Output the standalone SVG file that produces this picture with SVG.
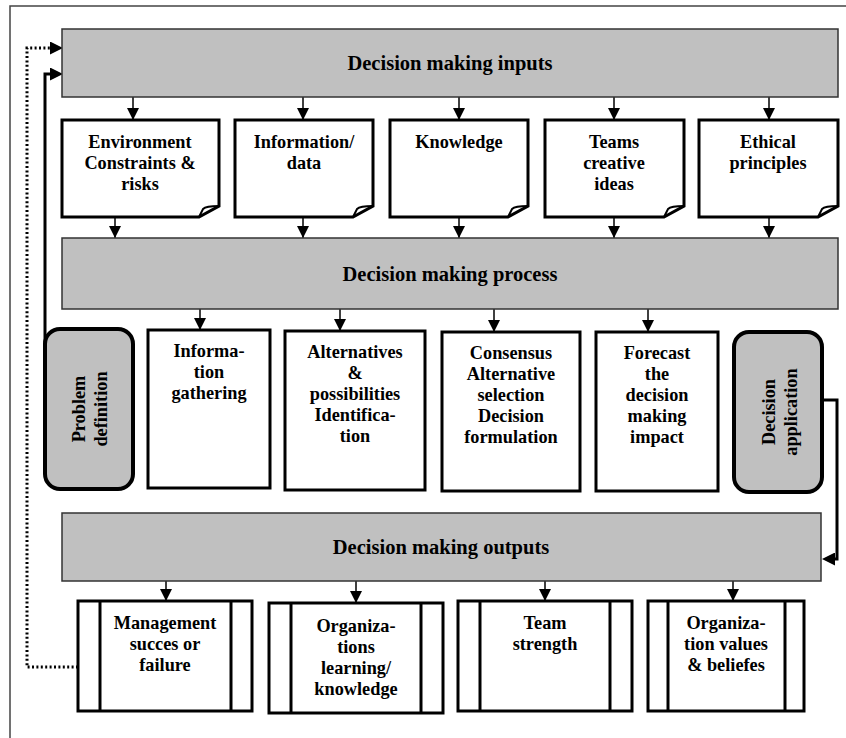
<svg xmlns="http://www.w3.org/2000/svg" width="846" height="738" viewBox="0 0 846 738">
<style>
text{font-family:"Liberation Serif","Times New Roman",serif;font-weight:bold;fill:#000}
.t{font-size:20.5px;text-anchor:middle}
.n{font-size:18.3px;text-anchor:middle}
.gray{fill:#c0c0c0;stroke:#333;stroke-width:1.5}
.doc{fill:#fff;stroke:#000;stroke-width:3;stroke-linejoin:miter}
.fold{fill:none;stroke:#000;stroke-width:2}
.box{fill:#fff;stroke:#000;stroke-width:3}
.rbox{fill:#c0c0c0;stroke:#000;stroke-width:4}
.bar{stroke:#000;stroke-width:3}
.arr{fill:none;stroke:#000;stroke-width:1.5}
.thick{fill:none;stroke:#000;stroke-width:3}
.dot{fill:none;stroke:#000;stroke-width:3;stroke-dasharray:2 2.4}
</style>
<defs>
<marker id="ah" viewBox="0 0 12 12" refX="12" refY="6" markerWidth="12" markerHeight="12" markerUnits="userSpaceOnUse" orient="auto"><path d="M0,0 L12,6 L0,12 Z" fill="#000" stroke="none"/></marker>
<marker id="ahb" viewBox="0 0 13 13" refX="0" refY="6.5" markerWidth="13" markerHeight="13" markerUnits="userSpaceOnUse" orient="auto"><path d="M0,0 L13,6.5 L0,13 Z" fill="#000" stroke="none"/></marker>
</defs>
<rect x="10" y="6" width="900" height="800" fill="none" stroke="#444" stroke-width="1.5"/>

<g id="connectors">
<line class="arr" x1="133" y1="97" x2="133" y2="120" marker-end="url(#ah)"/>
<line class="arr" x1="303" y1="97" x2="303" y2="120" marker-end="url(#ah)"/>
<line class="arr" x1="459" y1="97" x2="459" y2="120" marker-end="url(#ah)"/>
<line class="arr" x1="614" y1="97" x2="614" y2="120" marker-end="url(#ah)"/>
<line class="arr" x1="769" y1="97" x2="769" y2="120" marker-end="url(#ah)"/>
<line class="arr" x1="115" y1="217" x2="115" y2="238" marker-end="url(#ah)"/>
<line class="arr" x1="303" y1="217" x2="303" y2="238" marker-end="url(#ah)"/>
<line class="arr" x1="459" y1="217" x2="459" y2="238" marker-end="url(#ah)"/>
<line class="arr" x1="614" y1="217" x2="614" y2="238" marker-end="url(#ah)"/>
<line class="arr" x1="769" y1="217" x2="769" y2="238" marker-end="url(#ah)"/>
<line class="arr" x1="200" y1="309" x2="200" y2="330" marker-end="url(#ah)"/>
<line class="arr" x1="340" y1="309" x2="340" y2="331" marker-end="url(#ah)"/>
<line class="arr" x1="494" y1="309" x2="494" y2="332" marker-end="url(#ah)"/>
<line class="arr" x1="648" y1="309" x2="648" y2="332" marker-end="url(#ah)"/>
<line class="arr" x1="166" y1="581" x2="166" y2="601" marker-end="url(#ah)"/>
<line class="arr" x1="356" y1="581" x2="356" y2="603" marker-end="url(#ah)"/>
<line class="arr" x1="545" y1="581" x2="545" y2="601" marker-end="url(#ah)"/>
<line class="arr" x1="733" y1="581" x2="733" y2="601" marker-end="url(#ah)"/>
<path class="thick" d="M45,345 V74 H50" marker-end="url(#ahb)"/>
<path class="dot" d="M78,667 H27 V48 H50" marker-end="url(#ahb)"/>
<path class="thick" d="M822,400 H837 V559 H835" marker-end="url(#ahb)"/>
</g>

<g id="inputs"><rect class="gray" x="62" y="29" width="776" height="68"/><text class="t" x="450" y="70">Decision making inputs</text></g>

<g id="env"><path class="doc" d="M62,120 H219 V206 L199,217 H62 Z"/><path class="fold" d="M199,217 L203,209 Q206,206 219,206"/>
<text class="n" x="140" y="148">Environment</text><text class="n" x="140" y="169">Constraints &amp;</text><text class="n" x="140" y="190">risks</text></g>
<g id="info"><path class="doc" d="M235,120 H373 V206 L353,217 H235 Z"/><path class="fold" d="M353,217 L357,209 Q360,206 373,206"/>
<text class="n" x="304" y="148">Information/</text><text class="n" x="304" y="169">data</text></g>
<g id="knowledge"><path class="doc" d="M390,120 H528 V206 L508,217 H390 Z"/><path class="fold" d="M508,217 L512,209 Q515,206 528,206"/>
<text class="n" x="459" y="148">Knowledge</text></g>
<g id="teams"><path class="doc" d="M545,120 H684 V206 L664,217 H545 Z"/><path class="fold" d="M664,217 L668,209 Q671,206 684,206"/>
<text class="n" x="614" y="148">Teams</text><text class="n" x="614" y="169">creative</text><text class="n" x="614" y="190">ideas</text></g>
<g id="ethical"><path class="doc" d="M699,120 H838 V206 L818,217 H699 Z"/><path class="fold" d="M818,217 L822,209 Q825,206 838,206"/>
<text class="n" x="768" y="148">Ethical</text><text class="n" x="768" y="169">principles</text></g>

<g id="process"><rect class="gray" x="62" y="238" width="776" height="71"/><text class="t" x="450" y="281">Decision making process</text></g>

<g id="problem"><rect class="rbox" x="45" y="329" width="88" height="160" rx="15"/>
<g transform="translate(89,409) rotate(-90)"><text class="n" x="0" y="-4">Problem</text><text class="n" x="0" y="18">definition</text></g></g>
<g id="gathering"><rect class="box" x="148" y="330" width="122" height="158"/>
<text class="n" x="209" y="357">Informa-</text><text class="n" x="209" y="378">tion</text><text class="n" x="209" y="399">gathering</text></g>
<g id="alternatives"><rect class="box" x="285" y="331" width="140" height="159"/>
<text class="n" x="355" y="358">Alternatives</text><text class="n" x="355" y="379">&amp;</text><text class="n" x="355" y="400">possibilities</text><text class="n" x="355" y="421">Identifica-</text><text class="n" x="355" y="442">tion</text></g>
<g id="consensus"><rect class="box" x="442" y="332" width="138" height="159"/>
<text class="n" x="511" y="359">Consensus</text><text class="n" x="511" y="380">Alternative</text><text class="n" x="511" y="401">selection</text><text class="n" x="511" y="422">Decision</text><text class="n" x="511" y="443">formulation</text></g>
<g id="forecast"><rect class="box" x="596" y="332" width="122" height="159"/>
<text class="n" x="657" y="359">Forecast</text><text class="n" x="657" y="380">the</text><text class="n" x="657" y="401">decision</text><text class="n" x="657" y="422">making</text><text class="n" x="657" y="443">impact</text></g>
<g id="application"><rect class="rbox" x="734" y="332" width="88" height="160" rx="15"/>
<g transform="translate(778,412) rotate(-90)"><text class="n" x="0" y="-3">Decision</text><text class="n" x="0" y="19">application</text></g></g>

<g id="outputs"><rect class="gray" x="62" y="513" width="759" height="68"/><text class="t" x="441" y="554">Decision making outputs</text></g>

<g id="management"><rect class="box" x="78" y="601" width="174" height="110"/><line class="bar" x1="100" y1="601" x2="100" y2="711"/><line class="bar" x1="231" y1="601" x2="231" y2="711"/>
<text class="n" x="165" y="629">Management</text><text class="n" x="165" y="650">succes or</text><text class="n" x="165" y="671">failure</text></g>
<g id="learning"><rect class="box" x="269" y="603" width="174" height="110"/><line class="bar" x1="291" y1="603" x2="291" y2="713"/><line class="bar" x1="421" y1="603" x2="421" y2="713"/>
<text class="n" x="356" y="632">Organiza-</text><text class="n" x="356" y="653">tions</text><text class="n" x="356" y="674">learning/</text><text class="n" x="356" y="695">knowledge</text></g>
<g id="strength"><rect class="box" x="458" y="601" width="174" height="110"/><line class="bar" x1="480" y1="601" x2="480" y2="711"/><line class="bar" x1="610" y1="601" x2="610" y2="711"/>
<text class="n" x="545" y="629">Team</text><text class="n" x="545" y="650">strength</text></g>
<g id="values"><rect class="box" x="648" y="601" width="156" height="110"/><line class="bar" x1="668" y1="601" x2="668" y2="711"/><line class="bar" x1="785" y1="601" x2="785" y2="711"/>
<text class="n" x="726" y="629">Organiza-</text><text class="n" x="726" y="650">tion values</text><text class="n" x="726" y="671">&amp; beliefes</text></g>
</svg>
